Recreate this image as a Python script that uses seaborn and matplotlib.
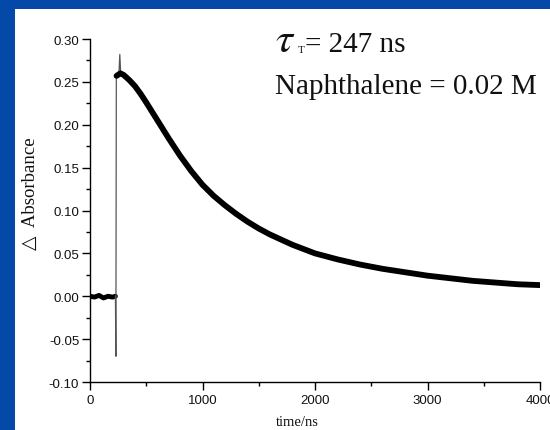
import matplotlib
matplotlib.use("Agg")
import matplotlib.pyplot as plt
import seaborn as sns
import pandas as pd
from matplotlib.patches import Rectangle

# ---- data ----
baseline_t = [0, 40, 80, 120, 160, 200, 226]
baseline_a = [0.000, -0.001, 0.001, -0.002, 0.000, -0.001, 0.000]

spike_t = [226, 230, 234, 240]
spike_a = [0.000, -0.070, 0.255, 0.258]

peak_t = [258, 265, 272]
peak_a = [0.262, 0.282, 0.262]

decay_t = [236, 270, 300, 350, 400, 450, 500, 600, 700, 800, 900, 1000,
           1100, 1200, 1300, 1400, 1500, 1600, 1700, 1800, 1900, 2000,
           2200, 2400, 2600, 2800, 3000, 3200, 3400, 3600, 3800, 4000]
decay_a = [0.257, 0.260, 0.258, 0.252, 0.245, 0.236, 0.226, 0.205, 0.184,
           0.164, 0.146, 0.130, 0.117, 0.106, 0.096, 0.087, 0.079, 0.072,
           0.066, 0.060, 0.055, 0.050, 0.043, 0.037, 0.032, 0.028, 0.024,
           0.021, 0.018, 0.016, 0.014, 0.013]

x_ticks = [0, 1000, 2000, 3000, 4000]
y_ticks = [-0.10, -0.05, 0.00, 0.05, 0.10, 0.15, 0.20, 0.25, 0.30]

W, H = 550, 431
sns.set_style("ticks")
plt.rcParams["mathtext.fontset"] = "stix"

fig = plt.figure(figsize=(W / 100, H / 100), dpi=100)
fig.patch.set_facecolor("#0449a8")
fig.patches.append(Rectangle((15 / W, 0), 1 - 15 / W, 1 - 10 / H,
                             transform=fig.transFigure, facecolor="white",
                             edgecolor="none", zorder=-5))

ax = fig.add_axes([90 / W, 1 - 383 / H, 450 / W, 343 / H])
ax.set_zorder(2)
ax.patch.set_alpha(0)

df_base = pd.DataFrame({"t": baseline_t, "a": baseline_a})
df_spike = pd.DataFrame({"t": spike_t, "a": spike_a})
df_peak = pd.DataFrame({"t": peak_t, "a": peak_a})
df_decay = pd.DataFrame({"t": decay_t, "a": decay_a})

sns.lineplot(data=df_base, x="t", y="a", ax=ax, color="black", lw=3.5,
             sort=False, estimator=None)
sns.lineplot(data=df_spike, x="t", y="a", ax=ax, color="#555555", lw=0.9,
             sort=False, estimator=None)
sns.lineplot(data=df_peak, x="t", y="a", ax=ax, color="#555555", lw=0.9,
             sort=False, estimator=None)
sns.lineplot(data=df_decay, x="t", y="a", ax=ax, color="black", lw=4.2,
             sort=False, estimator=None)

ax.set_xlim(0, 4000)
ax.set_ylim(-0.10, 0.30)
ax.set_xticks(x_ticks)
ax.set_yticks(y_ticks)
ax.set_xticklabels([str(v) for v in x_ticks])
ax.set_yticklabels([f"{v:.2f}" for v in y_ticks])
ax.set_xticks([500, 1500, 2500, 3500], minor=True)
ax.set_yticks([-0.075, -0.025, 0.025, 0.075, 0.125, 0.175, 0.225, 0.275],
              minor=True)
for lab in ax.get_xticklabels() + ax.get_yticklabels():
    lab.set_family("Liberation Sans")
    lab.set_fontsize(9.5)
    lab.set_color("#111111")
ax.tick_params(which="major", length=5.8, width=1.0, direction="out",
               color="black")
ax.tick_params(which="minor", length=3.0, width=1.0, direction="out",
               color="black")
ax.tick_params(axis="y", pad=2)
ax.tick_params(axis="x", pad=3)
sns.despine(ax=ax)
for s in ["left", "bottom"]:
    ax.spines[s].set_linewidth(1.0)
    ax.spines[s].set_color("black")
ax.set_xlabel("")
ax.set_ylabel("")

fig.text(297 / W, 1 - 426 / H, "time/ns", family="Liberation Serif",
         fontsize=10.5, ha="center", va="baseline", color="#111111")
fig.text(30 / W, 1 - 194 / H, "\u25b3  Absorbance",
         family=["Liberation Serif", "DejaVu Sans"], fontsize=13.5,
         rotation=90, ha="center", va="center", color="#111111")

fig.text(275 / W, 1 - 52 / H, r"$\tau$", fontsize=31, ha="left",
         va="baseline", color="#111111")
fig.text(298 / W, 1 - 53 / H, "T", family="Liberation Serif", fontsize=8,
         ha="left", va="baseline", color="#111111")
fig.text(305 / W, 1 - 52 / H, "= 247 ns", family="Liberation Serif",
         fontsize=21, ha="left", va="baseline", color="#111111")
fig.text(275 / W, 1 - 94 / H, "Naphthalene = 0.02 M",
         family="Liberation Serif", fontsize=21, ha="left", va="baseline",
         color="#111111")

fig.savefig("out.png", dpi=100, facecolor=fig.get_facecolor())
